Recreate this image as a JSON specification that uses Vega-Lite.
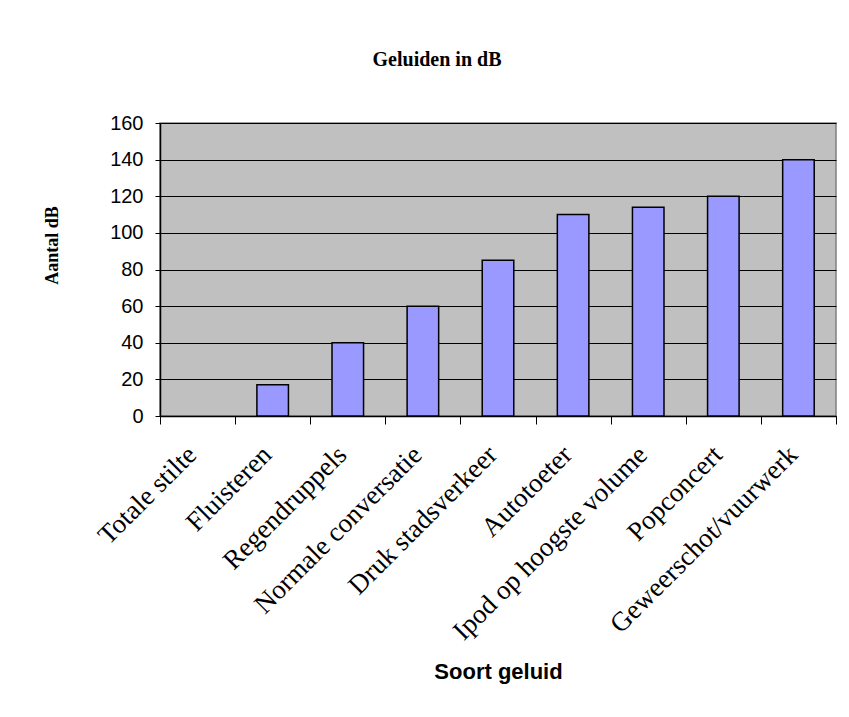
{
  "$schema": "https://vega.github.io/schema/vega-lite/v6.json",
  "autosize": {"type": "none"},
  "width": 676,
  "height": 293,
  "padding": {"left": 160, "top": 123, "right": 13, "bottom": 301},
  "background": "white",
  "title": {
    "text": "Geluiden in dB",
    "font": "Liberation Serif",
    "fontSize": 20,
    "fontWeight": "bold",
    "color": "black",
    "anchor": "middle",
    "frame": "group",
    "dx": -61,
    "offset": 43
  },
  "data": {
    "values": [
      {"geluid": "Totale stilte", "dB": 0},
      {"geluid": "Fluisteren", "dB": 17},
      {"geluid": "Regendruppels", "dB": 40},
      {"geluid": "Normale conversatie", "dB": 60},
      {"geluid": "Druk stadsverkeer", "dB": 85},
      {"geluid": "Autotoeter", "dB": 110},
      {"geluid": "Ipod op hoogste volume", "dB": 114},
      {"geluid": "Popconcert", "dB": 120},
      {"geluid": "Geweerschot/vuurwerk", "dB": 140}
    ]
  },
  "mark": {"type": "bar", "fill": "#9999FF", "stroke": "black", "strokeWidth": 1.5, "width": {"band": 0.42}},
  "encoding": {
    "x": {
      "field": "geluid",
      "type": "nominal",
      "sort": null,
      "scale": {"paddingInner": 0, "paddingOuter": 0},
      "axis": {
        "title": "Soort geluid",
        "titleFont": "Liberation Sans",
        "titleFontSize": 22,
        "titleFontWeight": "bold",
        "titleColor": "black",
        "titleY": 245,
        "titleBaseline": "top",
        "labelAngle": -45,
        "labelFont": "Liberation Serif",
        "labelFontSize": 27,
        "labelColor": "black",
        "labelBaseline": "alphabetic",
        "labelAlign": "right",
        "labelPadding": 32,
        "labelLimit": 400,
        "tickBand": "extent",
        "tickColor": "black",
        "tickSize": 8,
        "tickWidth": 1,
        "domainColor": "black",
        "domainWidth": 1.5,
        "grid": false
      }
    },
    "y": {
      "field": "dB",
      "type": "quantitative",
      "scale": {"domain": [0, 160], "nice": false},
      "axis": {
        "title": "Aantal dB",
        "titleFont": "Liberation Serif",
        "titleFontSize": 18,
        "titleFontWeight": "bold",
        "titleColor": "black",
        "titleX": -108,
        "titleY": 122,
        "titleAlign": "center",
        "titleBaseline": "middle",
        "titleAngle": -90,
        "values": [0, 20, 40, 60, 80, 100, 120, 140, 160],
        "labelFont": "Liberation Sans",
        "labelFontSize": 20,
        "labelColor": "black",
        "labelPadding": 12,
        "tickColor": "black",
        "tickSize": 5,
        "domainColor": "black",
        "domainWidth": 1.5,
        "grid": true,
        "gridColor": "black",
        "gridWidth": 1,
        "gridOpacity": 1
      }
    },
    "strokeOpacity": {"condition": {"test": "datum.dB === 0", "value": 0}, "value": 1}
  },
  "config": {
    "view": {"fill": "#C0C0C0", "stroke": "#808080", "strokeWidth": 1.5}
  }
}
